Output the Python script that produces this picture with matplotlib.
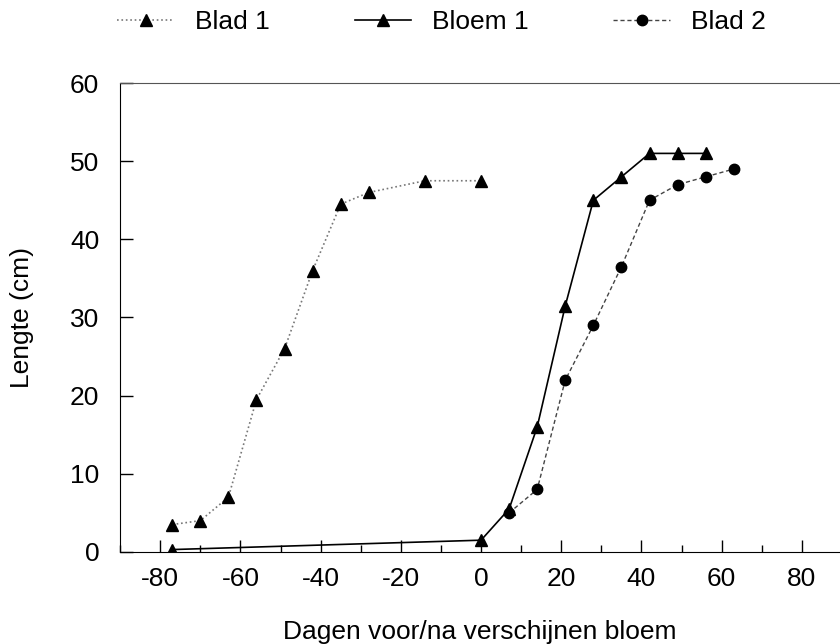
import matplotlib
matplotlib.use("Agg")
import matplotlib.pyplot as plt
from matplotlib.ticker import MultipleLocator

plt.rcParams['font.family'] = ['Liberation Sans', 'DejaVu Sans']
plt.rcParams['axes.unicode_minus'] = False

# Data
blad1_x = [-77, -70, -63, -56, -49, -42, -35, -28, -14, 0]
blad1_y = [3.5, 4, 7, 19.5, 26, 36, 44.5, 46, 47.5, 47.5]

bloem1_x = [-77, 0, 7, 14, 21, 28, 35, 42, 49, 56]
bloem1_y = [0.3, 1.5, 5.5, 16, 31.5, 45, 48, 51, 51, 51]

blad2_x = [7, 14, 21, 28, 35, 42, 49, 56, 63]
blad2_y = [5, 8, 22, 29, 36.5, 45, 47, 48, 49]

fig = plt.figure(figsize=(8.4, 6.44), dpi=100)
ax = fig.add_axes([0.143, 0.143, 0.857, 0.728])

ax.plot(blad1_x, blad1_y, linestyle=':', color='#777777', linewidth=1.2,
        marker='^', markersize=8, markerfacecolor='black', markeredgecolor='black',
        label='Blad 1')
ax.plot(bloem1_x, bloem1_y, linestyle='-', color='black', linewidth=1.2,
        marker='^', markersize=8, markerfacecolor='black', markeredgecolor='black',
        label='Bloem 1')
ax.plot(blad2_x, blad2_y, linestyle=(0, (3, 2)), color='#444444', linewidth=1.0,
        marker='o', markersize=7.5, markerfacecolor='black', markeredgecolor='black',
        label='Blad 2')

ax.set_xlim(-90, 89.5)
ax.set_ylim(0, 60)
ax.xaxis.set_major_locator(MultipleLocator(20))
ax.xaxis.set_minor_locator(MultipleLocator(10))
ax.yaxis.set_major_locator(MultipleLocator(10))
ax.tick_params(axis='both', which='major', direction='in', length=9, width=1,
               labelsize=19)
ax.tick_params(axis='x', which='major', pad=11)
ax.tick_params(axis='y', which='major', pad=15)
ax.tick_params(axis='x', which='minor', direction='in', length=5, width=1)
ax.tick_params(top=False, right=False)

ax.spines['right'].set_visible(False)
ax.spines['top'].set_color('#555555')

ax.set_xlabel('Dagen voor/na verschijnen bloem', fontsize=19)
ax.set_ylabel('Lengte (cm)', fontsize=19)
ax.xaxis.set_label_coords(0.5, -0.146)
ax.yaxis.set_label_coords(-0.119, 0.5)

fig.legend(loc='center', bbox_to_anchor=(0.526, 0.966), ncol=3, frameon=False,
           fontsize=19, handlelength=2.15, columnspacing=3.2, handletextpad=0.8)

fig.savefig('out.png', dpi=100)
